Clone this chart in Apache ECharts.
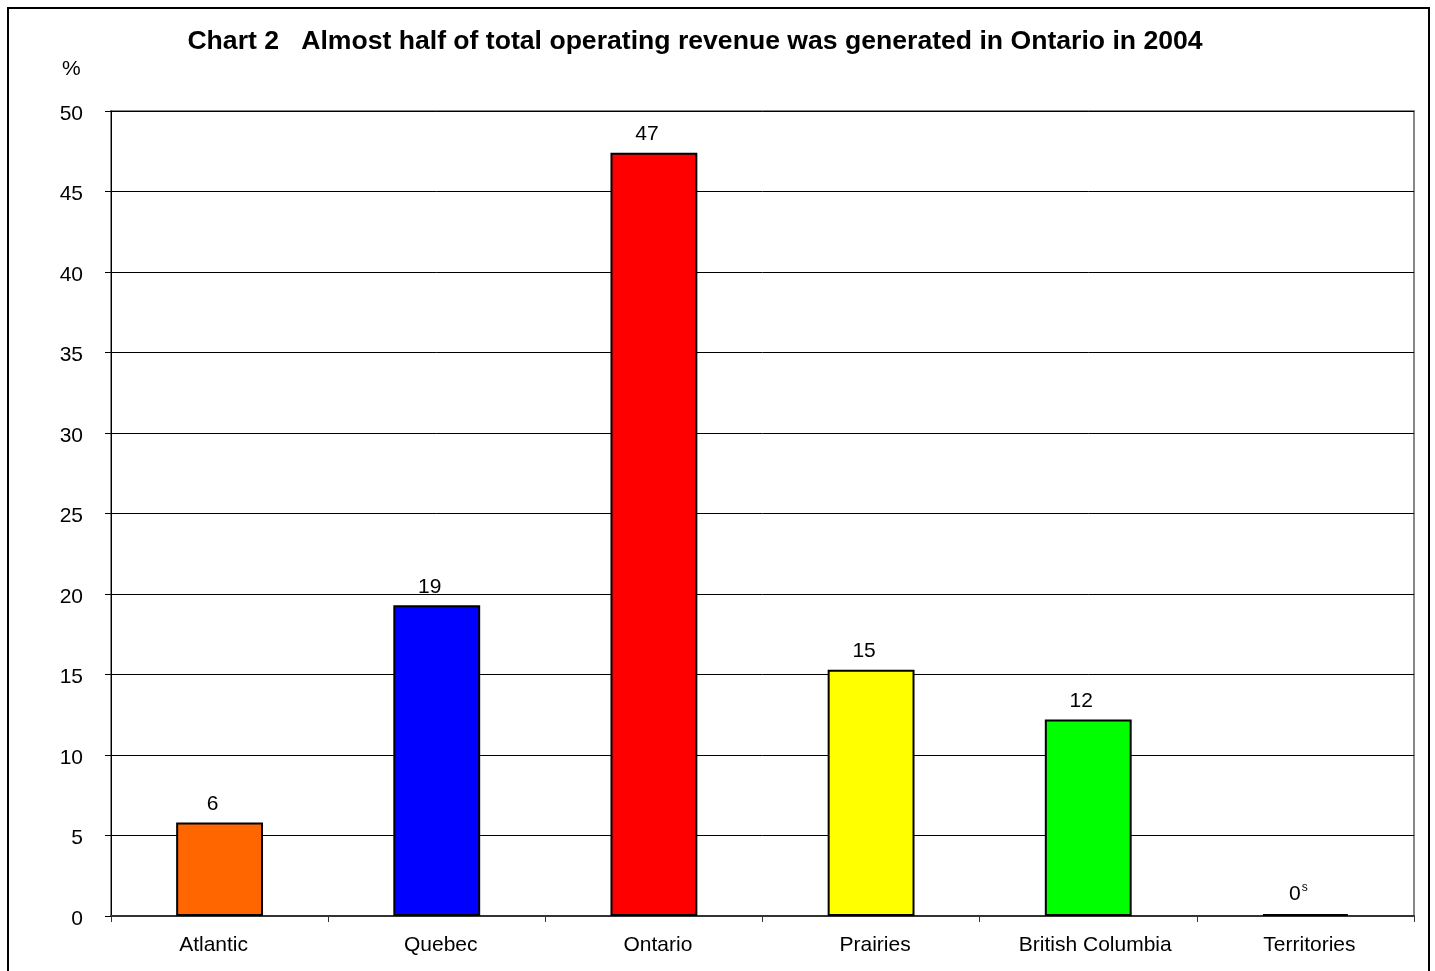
<!DOCTYPE html>
<html>
<head>
<meta charset="utf-8">
<script src="https://cdn.jsdelivr.net/npm/echarts@6/dist/echarts.min.js"></script>
<style>
  html, body { margin: 0; padding: 0; background: #fff; }
  #chart { width: 1435px; height: 971px; }
</style>
</head>
<body>
<div id="chart"></div>
<script>
// Share of total operating revenue by region, 2004 (%)
const categories = ['Atlantic', 'Quebec', 'Ontario', 'Prairies', 'British Columbia', 'Territories'];
const revenueShare = [5.8, 19.3, 47.4, 15.3, 12.2, 0.12];
const barColors = ['#FF6600', '#0000FF', '#FF0000', '#FFFF00', '#00FF00', '#000000'];
// Quality flags shown as superscripts next to the value label
const qualityFlags = ['', '', '', '', '', 's'];
const yTicks = [0, 5, 10, 15, 20, 25, 30, 35, 40, 45, 50];

const chart = echarts.init(document.getElementById('chart'), null, { renderer: 'canvas' });

const font = 'Arial, "Liberation Sans", sans-serif';

// Rich styles nudging category labels sideways under their bars
const catRich = {
  l: { fontFamily: font, fontSize: 21, color: '#000', padding: [0, 12, 0, 0] },
  m: { fontFamily: font, fontSize: 21, color: '#000', padding: [0, 0, 0, 8] },
  r: { fontFamily: font, fontSize: 21, color: '#000', padding: [0, 0, 0, 14] }
};
const catStyleKey = ['l', 'm', 'm', 'm', 'r', 'm'];

chart.setOption({
  backgroundColor: '#fff',
  animation: false,
  title: {
    text: 'Chart 2   Almost half of total operating revenue was generated in Ontario in 2004',
    left: 690,
    textAlign: 'center',
    top: 23,
    textStyle: { fontFamily: font, fontSize: 26.6, fontWeight: 'bold', color: '#000' }
  },
  graphic: [
    {
      type: 'rect',
      shape: { x: 8, y: 8, width: 1421, height: 980 },
      style: { fill: 'none', stroke: '#000', lineWidth: 2 },
      silent: true
    },
    {
      type: 'text',
      left: 62,
      top: 59,
      style: { text: '%', font: '21px ' + font, fill: '#000' }
    }
  ],
  grid: {
    left: 111,
    right: 21,
    top: 111,
    bottom: 55,
    show: true,
    borderColor: '#888',
    borderWidth: 2,
    backgroundColor: '#fff'
  },
  xAxis: {
    type: 'category',
    data: categories,
    axisLine: { lineStyle: { color: '#333', width: 2 } },
    axisTick: { show: true, interval: 0, alignWithLabel: false, length: 6, lineStyle: { color: '#333' } },
    axisLabel: {
      interval: 0,
      hideOverlap: false,
      fontFamily: font, fontSize: 21, color: '#000', margin: 19,
      formatter: (v, i) => '{' + catStyleKey[i] + '|' + v + '}',
      rich: catRich
    },
    splitLine: { show: false }
  },
  yAxis: {
    type: 'value',
    min: yTicks[0],
    max: yTicks[yTicks.length - 1],
    interval: 5,
    axisLine: { show: true, lineStyle: { color: '#000', width: 1 } },
    axisTick: { show: true, length: 6, lineStyle: { color: '#000' } },
    axisLabel: {
      fontFamily: font, fontSize: 21, color: '#000', margin: 28,
      formatter: v => '{t|' + v + '}',
      rich: { t: { fontFamily: font, fontSize: 21, color: '#000', padding: [6, 0, 0, 0] } }
    },
    splitLine: { show: true, lineStyle: { color: '#000', width: 1 } }
  },
  series: [{
    type: 'bar',
    barWidth: '40%',
    data: revenueShare.map((v, i) => ({
      value: v,
      itemStyle: { color: barColors[i], borderColor: '#000', borderWidth: 2 }
    })),
    label: {
      show: true,
      position: 'top',
      distance: 8,
      offset: [-7, 0],
      fontFamily: font,
      fontSize: 21,
      color: '#000',
      formatter: p => {
        const flag = qualityFlags[p.dataIndex];
        const txt = String(Math.round(p.value));
        return flag ? txt + '{sup|' + flag + '}' : txt;
      },
      rich: {
        sup: { fontFamily: font, fontSize: 12, color: '#000', verticalAlign: 'top', padding: [0, 0, 12, 1] }
      }
    }
  }]
});
</script>
</body>
</html>
